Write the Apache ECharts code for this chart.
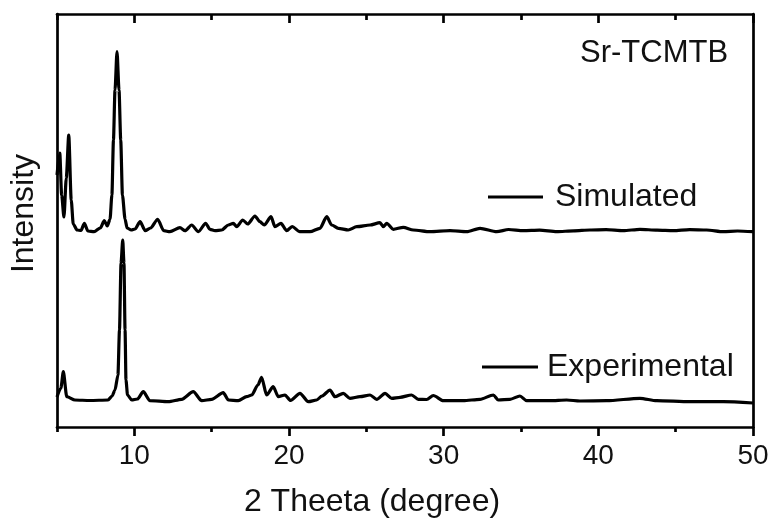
<!DOCTYPE html>
<html>
<head>
<meta charset="utf-8">
<script src="https://cdn.jsdelivr.net/npm/echarts@6/dist/echarts.min.js"></script>
<style>
html,body{margin:0;padding:0;background:#fff;}
#chart{width:777px;height:525px;}
</style>
</head>
<body>
<div id="chart"></div>
<script>
// 2θ positions (degree) and intensities (a.u.)
const simTheta = [5.00,5.18,5.30,5.45,5.60,5.76,5.92,6.05,6.30,6.55,6.77,7.00,7.40,7.80,8.06,8.25,8.43,8.55,8.65,8.75,8.88,9.01,9.12,9.23,9.40,9.53,9.80,10.05,10.37,10.70,11.05,11.51,11.90,12.30,12.95,13.28,13.71,14.14,14.61,14.89,15.22,15.65,16.08,16.40,16.62,17.01,17.33,17.80,18.12,18.40,18.84,19.09,19.48,19.85,20.20,20.70,21.36,22.00,22.44,22.76,23.19,23.83,24.38,25.24,25.88,26.10,26.32,26.74,27.39,28.04,29.12,30.41,31.49,32.35,33.43,34.20,35.15,36.20,37.31,38.40,39.46,40.50,41.61,42.69,43.80,44.85,45.90,47.00,48.08,49.00,50.00];
const simIntensity = [252,274,232,210,249,292,227,203,197,196.5,203.7,196,195.3,199,206.3,201,208,232,287,337,375.3,337,287,232,208,199,197,198,205.3,196.3,199,207.7,196.3,195.3,199.3,196.3,202,195.3,203.7,197.7,196.3,197,202,203.7,200.3,207,203,211,205.3,202,210.3,200.3,203.7,196.3,200.5,195.3,195.3,198.7,210.3,202,198.7,197,200.3,202,204.3,200.3,203.7,197.7,199.7,197,195.3,196.3,195.3,198.7,195.3,197.5,196.3,196.8,195.3,196.2,197,197.3,196.3,197.7,196.8,196.3,197.4,197,195.3,196,195.3];

const expTheta = [5.00,5.25,5.41,5.63,6.16,7.13,8.30,8.56,8.75,8.94,9.04,9.14,9.25,9.33,9.40,9.46,9.56,9.83,10.20,10.58,11.01,12.20,13.06,13.81,14.36,15.00,15.75,16.08,16.72,17.26,17.59,17.99,18.23,18.55,18.98,19.31,19.74,20.10,20.71,21.25,21.79,22.13,22.65,22.97,23.51,23.94,24.59,25.24,25.67,26.21,26.64,27.18,27.93,28.36,28.90,29.33,29.98,31.27,32.35,33.21,33.53,34.29,34.93,35.37,36.87,37.95,38.81,40.54,42.69,43.77,45.93,48.08,50.00];
const expIntensity = [30,39,55.3,30.3,27,26.5,27,31,37,52,97,164,187,164,97,47,32,27,28,35.3,26.3,25.3,27.7,35.3,26.3,27.7,34.3,27,26.3,30.3,32,42,49.7,32,40.3,30.3,32,26.5,33.7,25.3,27,31,37,30.3,33.7,28.7,30.3,32,27.7,33.7,28.7,29.7,32,27.7,27.5,31.5,26.3,26.3,27.7,32,27,27.7,31,26.3,26.3,27,26,26.3,28.7,26.3,25.3,25.3,24];

const seriesNames = ['Simulated', 'Experimental'];
const majorTicks = [10, 20, 30, 40, 50];
const minorTicks = [5, 15, 25, 35, 45];
const sampleLabel = 'Sr-TCMTB';
const xName = '2 Theeta (degree)';
const yName = 'Intensity';

const FONT = "'Liberation Sans', Arial, Helvetica, sans-serif";
const ink = '#111';

function pairs(xs, ys) { return xs.map((x, i) => [x, ys[i]]); }

const chart = echarts.init(document.getElementById('chart'), null, {renderer: 'canvas'});

const baseX = {type: 'value', min: 5, max: 50, interval: 5, splitLine: {show: false}, gridIndex: 0};
const AW = 2.7;

chart.setOption({
  animation: false,
  backgroundColor: '#fff',
  color: ['#000', '#000'],
  grid: {left: 57, right: 24, top: 14, bottom: 98, containLabel: false},
  xAxis: [
    Object.assign({}, baseX, {
      position: 'bottom',
      axisLine: {show: true, lineStyle: {color: '#000', width: AW}},
      axisTick: {show: true, inside: false, length: 9, customValues: majorTicks, lineStyle: {color: '#000', width: AW}},
      axisLabel: {show: true, customValues: majorTicks, fontSize: 28, margin: 15, color: ink, fontFamily: FONT},
      name: xName, nameLocation: 'middle', nameGap: 59,
      nameTextStyle: {fontSize: 32, color: ink, fontFamily: FONT, padding: [0, 66, 0, 0]}
    }),
    Object.assign({}, baseX, {
      position: 'bottom',
      axisLine: {show: false},
      axisTick: {show: true, inside: false, length: 5, customValues: minorTicks, lineStyle: {color: '#000', width: AW}},
      axisLabel: {show: false}
    }),
    Object.assign({}, baseX, {
      position: 'top',
      axisLine: {show: true, lineStyle: {color: '#000', width: AW}},
      axisTick: {show: true, inside: true, length: 9, customValues: majorTicks, lineStyle: {color: '#000', width: AW}},
      axisLabel: {show: false}
    }),
    Object.assign({}, baseX, {
      position: 'top',
      axisLine: {show: false},
      axisTick: {show: true, inside: true, length: 6, customValues: minorTicks, lineStyle: {color: '#000', width: AW}},
      axisLabel: {show: false}
    })
  ],
  yAxis: [
    {
      type: 'value', min: 0, max: 413, position: 'left',
      axisLine: {show: true, lineStyle: {color: '#000', width: AW}},
      axisTick: {show: false}, axisLabel: {show: false}, splitLine: {show: false},
      name: yName, nameLocation: 'middle', nameGap: 17,
      nameTextStyle: {fontSize: 32, color: ink, fontFamily: FONT, padding: [0, 0, 0, 14]}
    },
    {
      type: 'value', min: 0, max: 413, position: 'right',
      axisLine: {show: true, lineStyle: {color: '#000', width: AW}},
      axisTick: {show: false}, axisLabel: {show: false}, splitLine: {show: false}
    }
  ],
  legend: [
    {
      data: [seriesNames[0]], left: 488, top: 181, padding: 0, orient: 'horizontal',
      icon: 'rect', itemWidth: 55, itemHeight: 3, selectedMode: false,
      textStyle: {fontSize: 32, color: ink, fontFamily: FONT, padding: [0, 0, 0, 7]}
    },
    {
      data: [seriesNames[1]], left: 482, top: 351, padding: 0, orient: 'horizontal',
      icon: 'rect', itemWidth: 56, itemHeight: 3, selectedMode: false,
      textStyle: {fontSize: 32, color: ink, fontFamily: FONT, padding: [0, 0, 0, 4]}
    }
  ],
  graphic: [
    {type: 'text', left: 580, top: 38, style: {text: sampleLabel, fontSize: 31, fill: ink, fontFamily: FONT}}
  ],
  series: [
    {
      name: seriesNames[0], type: 'line', xAxisIndex: 0, yAxisIndex: 0,
      data: pairs(simTheta, simIntensity), showSymbol: false, symbol: 'none',
      smooth: 0.25, smoothMonotone: 'x',
      lineStyle: {color: '#000', width: 3.2, join: 'round'}, itemStyle: {color: '#000'}
    },
    {
      name: seriesNames[1], type: 'line', xAxisIndex: 0, yAxisIndex: 0,
      data: pairs(expTheta, expIntensity), showSymbol: false, symbol: 'none',
      smooth: 0.25, smoothMonotone: 'x',
      lineStyle: {color: '#000', width: 3.2, join: 'round'}, itemStyle: {color: '#000'}
    }
  ]
});
</script>
</body>
</html>
